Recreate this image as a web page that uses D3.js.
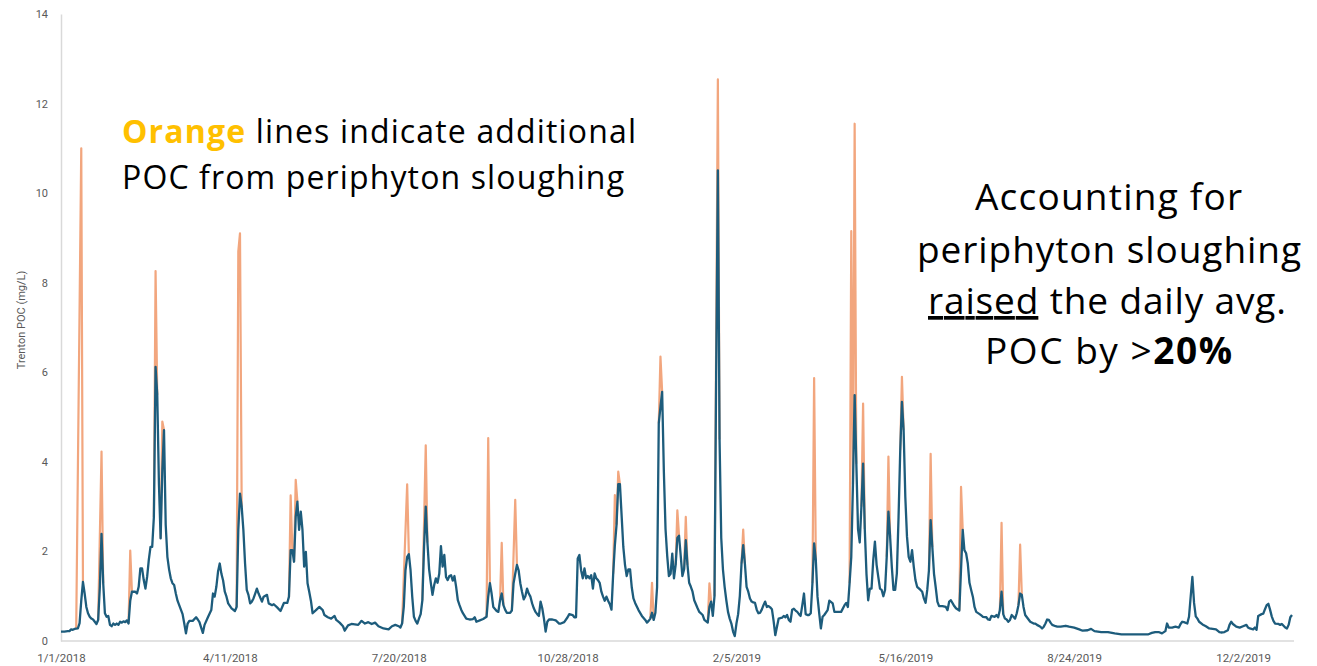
<!DOCTYPE html>
<html><head><meta charset="utf-8">
<script src="https://cdn.jsdelivr.net/npm/d3@7"></script>
<style>body{margin:0;background:#fff} svg{display:block}</style>
</head><body>
<svg id="chart" width="1317" height="666"></svg>
<script>
// x = days since 1/1/2018
const tickDays = [0,100,200,300,400,500,600,700];
const tickLabels = ["1/1/2018","4/11/2018","7/20/2018","10/28/2018","2/5/2019","5/16/2019","8/24/2019","12/2/2019"];
const yTicks = [0,2,4,6,8,10,12,14];

// Trenton POC without sloughing (blue), [day, mg/L]
const basePOC = [
[0,0.21],[2,0.21],[4,0.22],[5,0.22],[6,0.26],[7,0.25],[8,0.27],[10,0.28],[11,0.4],[12,0.9],[13,1.32],[14,1.06],[15,0.76],[16,0.62],[17,0.54],[18,0.5],[19,0.48],[20,0.43],[21,0.38],[22,0.47],[23,1.2],[24,2.39],[25,1.29],[26,0.62],[27,0.54],[28,0.56],[29,0.36],[30,0.33],[31,0.39],[32,0.36],[33,0.39],[34,0.36],[35,0.43],[36,0.41],[37,0.44],[38,0.42],[39,0.46],[40,0.39],[41,0.9],[42,1.1],[43,1.1],[44,1.1],[45,1.06],[46,1.21],[47,1.62],[48,1.62],[49,1.36],[50,1.17],[51,1.43],[52,1.81],[53,2.1],[54,2.1],[55,2.77],[56,6.12],[57,5.5],[58,3.5],[59,2.29],[60,3.81],[61,4.71],[62,2.6],[63,1.88],[64,1.6],[65,1.4],[66,1.29],[67,1.25],[68,1.06],[69,0.9],[70,0.8],[71,0.7],[72,0.6],
[73,0.39],[74,0.17],[75,0.39],[76,0.45],[78,0.45],[80,0.53],[81,0.48],[82,0.42],[83,0.3],[84,0.18],[85,0.36],[87,0.53],[89,0.69],[90,1.06],[91,0.99],[92,1.21],[93,1.55],[94,1.73],[95,1.5],[96,1.35],[97,1.1],[98,0.99],[99,0.84],[101,0.73],[103,0.67],[104,0.76],[105,2.48],[106,3.29],[107,3.0],[108,2.48],[109,1.73],[110,1.14],[111,1.03],[112,0.84],[113,0.88],[114,0.95],[115,1.06],[116,1.17],[117,1.06],[119,0.88],[120,0.99],[122,1.03],[123,0.84],[125,0.8],[126,0.82],[128,0.75],[130,0.67],[131,0.76],[132,0.85],[134,0.85],[135,0.99],[136,2.03],[137,2.03],[138,1.77],[139,2.77],[140,3.11],[141,2.48],[142,2.89],[143,2.48],[144,1.66],[145,1.99],[146,1.29],[147,1.1],[148,0.9],[149,0.62],
[151,0.69],[153,0.76],[155,0.69],[156,0.58],[158,0.53],[160,0.5],[162,0.56],[163,0.47],[165,0.41],[167,0.33],[168,0.23],[170,0.35],[172,0.38],[174,0.37],[176,0.36],[178,0.45],[180,0.39],[182,0.42],[184,0.38],[186,0.41],[188,0.33],[191,0.28],[194,0.26],[196,0.33],[198,0.36],[200,0.33],[201,0.3],[202,0.39],[203,0.76],[204,1.58],[205,1.88],[206,1.94],[207,1.58],[208,0.99],[209,0.54],[210,0.45],[211,0.39],[212,0.5],[213,0.6],[214,0.91],[215,2.1],[216,3.0],[217,2.2],[218,1.6],[219,1.3],[220,1.03],[221,1.25],
[222,1.4],[223,1.3],[224,1.5],[225,2.12],[226,1.66],[227,1.92],[228,1.43],[229,1.36],[230,1.45],[231,1.47],[232,1.35],[233,1.45],[234,1.21],[235,0.91],[236,0.8],[237,0.7],[238,0.62],[240,0.5],[242,0.48],[244,0.49],[245,0.53],[246,0.43],[248,0.46],[250,0.49],[252,0.54],[253,0.99],[254,1.29],[255,1.06],[256,0.76],[258,0.67],[259,0.65],[260,0.91],[261,1.06],[262,0.8],[263,0.7],[264,0.63],[266,0.63],[267,0.68],[268,1.29],[269,1.5],[270,1.7],[271,1.58],[272,1.29],[273,1.1],[274,0.93],[275,1.0],[276,1.17],[277,1.06],[278,0.99],[279,0.84],[280,0.73],[281,0.65],[282,0.6],[283,0.56],[284,0.88],[285,0.73],[286,0.5],[287,0.21],[288,0.43],[289,0.48],[291,0.48],[293,0.46],[295,0.39],
[296,0.39],[298,0.42],[300,0.53],[301,0.6],[303,0.58],[304,0.53],[305,0.53],[306,1.84],[307,1.92],[308,1.58],[309,1.4],[310,1.62],[311,1.4],[312,1.45],[313,1.4],[314,1.47],[315,1.17],[316,1.51],[317,1.4],[318,1.36],[319,1.3],[320,1.1],[321,0.99],[322,0.9],[323,0.99],[324,0.9],[325,0.82],[326,0.7],[327,1.5],[328,2.14],[329,2.6],[330,3.5],[331,3.5],[332,2.8],[333,2.1],[334,1.7],[335,1.45],[336,1.6],[337,1.6],[338,1.2],[339,0.95],[340,0.85],[342,0.69],[344,0.56],[346,0.47],[347,0.41],[348,0.45],[349,0.5],[350,0.63],[351,0.47],[352,0.63],[353,1.2],[354,4.86],[355,5.23],[356,5.56],[357,3.8],[358,2.5],[359,1.9],[360,1.45],[361,1.5],[362,1.95],[363,1.4],[364,1.7],[365,2.3],[366,2.35],[367,1.9],[368,1.45],[369,1.6],
[370,2.25],[371,1.7],[372,1.3],[373,1.21],[374,1.1],[375,0.91],[377,0.73],[378,0.65],[380,0.58],[381,0.47],[383,0.41],[384,0.76],[385,0.88],[386,0.56],[387,1.0],[388,6.0],[389,10.51],[390,4.5],[391,2.3],[392,1.6],[393,1.21],[394,0.91],[395,0.65],[396,0.5],[397,0.39],[398,0.21],[399,0.11],[400,0.39],[401,0.6],[402,1.0],[403,1.73],[404,2.14],[405,1.73],[406,1.21],[407,1.1],[408,0.95],[409,0.88],[410,0.86],[411,0.85],[412,0.7],[413,0.62],[414,0.63],[415,0.7],[416,0.8],[417,0.88],[418,0.76],[419,0.78],[420,0.75],[421,0.71],[422,0.45],[423,0.13],[424,0.32],[425,0.5],[427,0.52],[428,0.56],[429,0.53],[430,0.58],[431,0.47],[432,0.43],[433,0.7],[434,0.72],[435,0.68],[436,0.65],[437,0.6],[438,0.56],[439,0.8],[440,1.06],[441,0.6],[442,0.58],[443,0.58],[444,0.62],[445,1.29],[446,2.18],[447,1.81],[448,0.99],[449,0.62],[450,0.28],[451,0.54],[452,0.58],[454,0.69],[455,0.9],[457,0.84],[458,0.65],[460,0.65],[462,0.65],[464,0.8],[465,0.85],[466,0.76],[467,1.29],[468,1.88],[469,3.5],[470,5.49],[471,3.96],[472,2.5],[473,2.2],[474,3.0],[475,3.96],[476,2.5],[477,1.5],[478,0.91],[479,1.17],[480,1.17],[481,1.8],[482,2.22],[483,1.7],[484,1.43],[485,1.17],[486,1.14],[487,1.0],[488,1.14],[489,1.88],[490,2.89],[491,2.33],[492,1.66],[493,1.14],[494,1.14],[495,1.51],[496,2.77],[497,4.26],[498,5.34],[499,4.71],[500,3.22],[501,2.33],[502,1.88],[503,1.77],[504,2.03],[505,1.66],[506,1.36],[507,1.21],[509,1.14],[510,1.1],[511,0.95],[512,0.85],[513,1.14],[514,1.58],[515,2.7],[516,2.1],[517,1.5],[518,1.2],
[519,0.88],[520,0.78],[522,0.78],[524,0.76],[525,0.69],[526,0.88],[527,0.91],[529,0.78],[530,0.73],[532,0.68],[533,1.6],[534,2.48],[535,2.03],[536,1.96],[537,1.73],[538,1.3],[539,1.14],[540,0.99],[541,0.76],[542,0.65],[544,0.6],[545,0.57],[546,0.54],[548,0.53],[549,0.48],[550,0.47],[551,0.56],[553,0.54],[554,0.58],[555,0.53],[556,0.69],[557,1.1],[558,0.6],[559,0.5],[560,0.48],[561,0.43],[562,0.47],[563,0.58],[564,0.54],[565,0.5],[566,0.62],[567,0.8],[568,1.06],[569,1.03],[570,0.76],[571,0.58],[573,0.48],[574,0.43],[576,0.39],[577,0.39],[578,0.36],[580,0.32],[581,0.28],[582,0.32],[583,0.39],[584,0.48],[585,0.47],[586,0.41],[587,0.36],[589,0.33],[590,0.32],
[592,0.32],[595,0.34],[597,0.32],[600,0.3],[603,0.26],[605,0.23],[608,0.24],[610,0.27],[612,0.22],[616,0.2],[620,0.2],[624,0.17],[628,0.15],[632,0.15],[636,0.15],[640,0.15],[644,0.15],[646,0.18],[648,0.2],[650,0.2],[652,0.17],[654,0.22],[655,0.39],[656,0.3],[658,0.3],[660,0.32],[662,0.3],[663,0.38],[664,0.43],[665,0.42],[667,0.39],[668,0.54],[669,0.99],[670,1.43],[671,0.85],[672,0.55],[673,0.5],[674,0.43],[676,0.37],[678,0.33],[680,0.28],[682,0.27],[684,0.26],[686,0.2],[687,0.19],[689,0.2],[691,0.24],[692,0.36],[693,0.43],[694,0.38],[696,0.32],[698,0.3],[700,0.33],[702,0.36],[703,0.3],[704,0.28],[706,0.26],[707,0.3],[708,0.25],[709,0.56],[711,0.6],[712,0.61],[713,0.71],[714,0.8],[715,0.83],[716,0.7],[717,0.55],[718,0.45],[719,0.39],[721,0.38],[722,0.36],[723,0.38],[725,0.3],[726,0.28],[727,0.36],[728,0.53],[729,0.58]
];

// Additional POC from periphyton sloughing (orange spikes), [day, mg/L]
const sloughingSpikes = [
[[9,0.27],[12,11.0],[13,1.32]],
[[22,0.47],[24,4.23],[25,1.29]],
[[40,0.39],[41,2.02],[42,1.1]],
[[55,2.77],[56,8.26],[57,5.5]],
[[59,2.29],[60,4.9],[61,4.71]],
[[104,0.76],[105,8.7],[106,9.1],[107,3.0]],
[[135,0.99],[136,3.25],[137,2.03]],
[[138,1.77],[139,3.6],[140,3.11]],
[[202,0.39],[205,3.5],[206,1.94]],
[[214,0.91],[216,4.37],[217,2.2]],
[[252,0.54],[253,4.53],[254,1.29]],
[[260,0.91],[261,2.19],[262,0.8]],
[[267,0.68],[269,3.15],[270,1.7]],
[[327,1.5],[328,3.26],[329,2.6]],
[[329,2.6],[330,3.78],[331,3.5]],
[[349,0.5],[350,1.3],[351,0.47]],
[[354,4.86],[355,6.35],[356,5.56]],
[[364,1.7],[365,2.92],[366,2.35]],
[[369,1.6],[370,2.77],[371,1.7]],
[[383,0.41],[384,1.29],[385,0.88]],
[[387,1.0],[389,12.54],[390,4.5]],
[[403,1.73],[404,2.49],[405,1.73]],
[[445,1.29],[446,5.87],[447,1.81]],
[[467,1.29],[468,9.15],[469,3.5],[470,11.55],[471,3.96]],
[[474,3.0],[475,5.3],[476,2.5]],
[[489,1.88],[490,4.12],[491,2.33]],
[[497,4.26],[498,5.9],[499,4.71]],
[[514,1.58],[515,4.18],[516,2.1]],
[[532,0.68],[533,3.44],[534,2.48]],
[[556,0.69],[557,2.64],[558,0.6]],
[[567,0.8],[568,2.15],[569,1.03]]
];

const svg = d3.select("#chart");
const x = d3.scaleLinear().domain([0, 729]).range([61, 1292]);
const y = d3.scaleLinear().domain([0, 14]).range([641, 14]);
const gray = "#595959", axisCol = "#d9d9d9";

// axes
const yAxis = svg.append("g").attr("transform","translate(61,0)")
  .call(d3.axisLeft(y).tickValues(yTicks).tickSize(0).tickPadding(13).tickFormat(d3.format("d")));
yAxis.select(".domain").attr("stroke", axisCol).attr("stroke-width",1.5);
yAxis.selectAll("text").attr("fill", gray).style("font-family","Roboto, Arial, sans-serif").style("font-size","11px");

const xAxis = svg.append("g").attr("transform","translate(0,641)")
  .call(d3.axisBottom(x).tickValues(tickDays).tickSize(0).tickPadding(13).tickFormat((d,i)=>tickLabels[i]));
xAxis.select(".domain").attr("stroke", axisCol).attr("stroke-width",1.5).attr("d","M61,0H1294");
xAxis.selectAll("text").attr("fill", gray).style("font-family","Roboto, Arial, sans-serif").style("font-size","11.5px");

svg.append("text").attr("transform","translate(25,320) rotate(-90)").attr("text-anchor","middle")
  .attr("fill", gray).style("font-family","Roboto, Arial, sans-serif").style("font-size","11px").text("Trenton POC (mg/L)");

const line = d3.line().x(d=>x(d[0])).y(d=>y(d[1]));
const plot = svg.append("g");
plot.selectAll("path.slough").data(sloughingSpikes).join("path").attr("class","slough")
  .attr("d", line).attr("fill","none").attr("stroke","#F2A67E").attr("stroke-width",2.2).attr("stroke-linejoin","round");
plot.append("path").datum(basePOC).attr("d", line).attr("fill","none")
  .attr("stroke","#1D5C7C").attr("stroke-width",2.3).attr("stroke-linejoin","round");

// annotations
const font = "'Open Sans', 'Noto Sans', sans-serif";
const t1 = svg.append("text").attr("x",122).attr("y",143).attr("textLength",514).attr("lengthAdjust","spacing")
  .style("font-family",font).style("font-size","32px").attr("fill","#000");
t1.append("tspan").attr("fill","#FFC000").style("font-weight","bold").text("Orange");
t1.append("tspan").text(" lines indicate additional");
svg.append("text").attr("x",122).attr("y",189).attr("textLength",502).attr("lengthAdjust","spacing")
  .style("font-family",font).style("font-size","32px").attr("fill","#000").text("POC from periphyton sloughing");

const rfs = "37px";
svg.append("text").attr("x",975).attr("y",210).attr("textLength",267).attr("lengthAdjust","spacing")
  .style("font-family",font).style("font-size",rfs).text("Accounting for");
svg.append("text").attr("x",917).attr("y",263).attr("textLength",384).attr("lengthAdjust","spacing")
  .style("font-family",font).style("font-size",rfs).text("periphyton sloughing");
const t3 = svg.append("text").attr("x",928).attr("y",314).attr("textLength",358).attr("lengthAdjust","spacing")
  .style("font-family",font).style("font-size",rfs);
t3.append("tspan").style("text-decoration","underline").text("raised");
t3.append("tspan").text(" the daily avg.");
const t4 = svg.append("text").attr("x",985).attr("y",364).attr("textLength",247).attr("lengthAdjust","spacing")
  .style("font-family",font).style("font-size",rfs);
t4.append("tspan").text("POC by >");
t4.append("tspan").style("font-weight","bold").text("20%");
</script>
</body></html>
